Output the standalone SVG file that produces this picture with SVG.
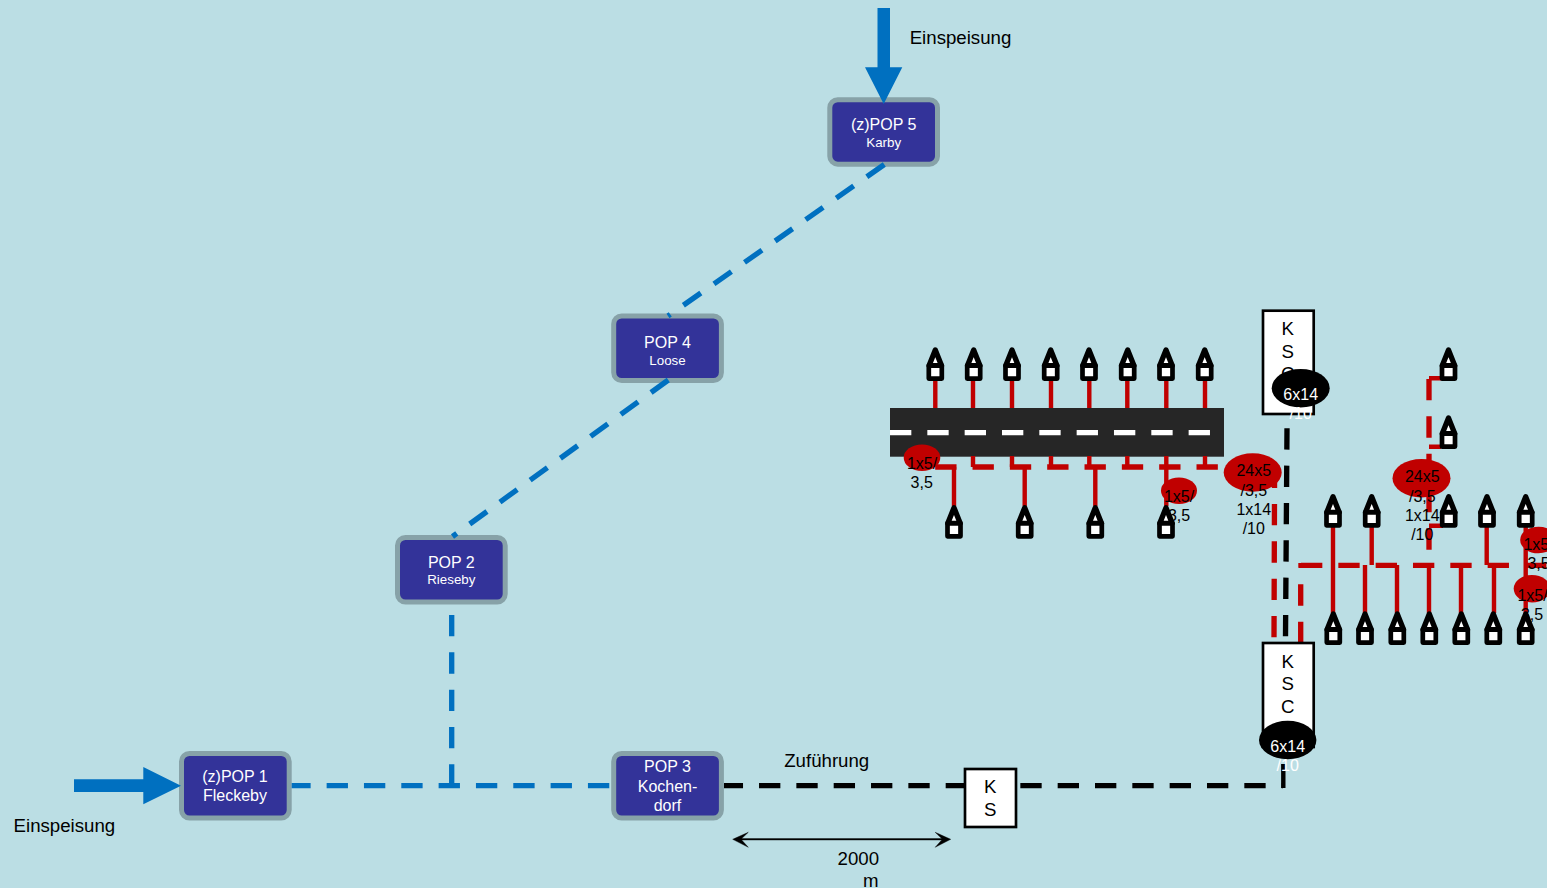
<svg xmlns="http://www.w3.org/2000/svg" width="1547" height="888" viewBox="0 0 1547 888">
<style>
text{font-family:"Liberation Sans",Arial,sans-serif;text-anchor:middle;fill:#000}
.t18{font-size:18.67px}.t16{font-size:16px}.t13{font-size:13.33px}
.w{fill:#fff}
.pop{fill:#333399;stroke:#87A2A8;stroke-width:5}
.blue{stroke:#0070C0;stroke-width:5.33;stroke-dasharray:21.33 16;fill:none}
.blk{stroke:#000;stroke-width:5.33;stroke-dasharray:21.33 16;fill:none}
.red{stroke:#C00000;stroke-width:5.33;stroke-dasharray:21.33 16;fill:none}
.rs{stroke:#C00000;stroke-width:4.4;fill:none}
.box{fill:#fff;stroke:#000;stroke-width:2.67}
.oval-r{fill:#C00000}
</style>
<defs>
<g id="mk" fill="#fff" stroke="#000" stroke-linejoin="round">
<path d="M0-31 L6.2-15.4 H-6.2Z" stroke-width="5.33"/>
<rect x="-6.5" y="-15.4" width="13" height="13" stroke-width="4.7"/>
</g>
</defs>
<rect width="1547" height="888" fill="#BBDEE4"/>

<g id="road">
<rect x="890" y="408" width="334" height="48.7" fill="#262626"/>
<path d="M890 432.7H1211" stroke="#fff" stroke-width="5.33" stroke-dasharray="21.33 16" fill="none"/>
</g>

<g id="pop1"><rect class="pop" x="181.5" y="753.5" width="107.7" height="64.5" rx="8"/>
<text class="t16 w" x="235" y="782.3">(z)POP 1</text><text class="t16 w" x="235" y="801">Fleckeby</text></g>
<g id="pop2"><rect class="pop" x="397.5" y="537.5" width="107.7" height="64.5" rx="8"/>
<text class="t16 w" x="451.3" y="568.3">POP 2</text><text class="t13 w" x="451.3" y="584.3">Rieseby</text></g>
<g id="pop3"><rect class="pop" x="613.7" y="753.5" width="107.7" height="64.5" rx="8"/>
<text class="t16 w" x="667.5" y="772">POP 3</text><text class="t16 w" x="667.5" y="792">Kochen-</text><text class="t16 w" x="667.5" y="811">dorf</text></g>
<g id="pop4"><rect class="pop" x="613.7" y="316" width="107.7" height="64.5" rx="8"/>
<text class="t16 w" x="667.5" y="348.3">POP 4</text><text class="t13 w" x="667.5" y="365.3">Loose</text></g>
<g id="pop5"><rect class="pop" x="829.8" y="99.7" width="107.7" height="64.5" rx="8"/>
<text class="t16 w" x="883.7" y="130">(z)POP 5</text><text class="t13 w" x="883.7" y="147.3">Karby</text></g>

<g id="connectors">
<path class="blue" d="M884.3 164.5L668 316"/>
<path class="blue" d="M668.3 380L452.5 536.5"/>
<path class="blue" d="M451.7 615V786"/>
<path class="blue" d="M291.7 785.7H611" style="stroke-dashoffset:2.4"/>
<path class="blk" d="M724 785.7H1283" style="stroke-dashoffset:2.3"/>
<path class="blk" d="M1287 428.3L1285.5 636.7"/>
<path d="M1283.3 764V788" stroke="#000" stroke-width="4.4" fill="none"/>
<path class="red" d="M935.2 467H1234"/>
<path class="red" d="M1274.6 466.7L1274 638"/>
<path class="red" d="M1300.7 584.3V642.7"/>
<path class="red" d="M1301 565.3H1547"/>
<path d="M1298.3 565.3H1303M1300.7 563V568" stroke="#C00000" stroke-width="4.4" fill="none"/>
<path class="red" d="M1429 379V565"/>
<path class="rs" d="M935.3 380V408M973 380V408M1012 380V408M1051 380V408M1089.3 380V408M1127.3 380V408M1166.3 380V408M1205 380V408"/>
<path class="rs" d="M973 456V467M1012 456V467M1051 456V467M1089.3 456V467M1127.3 456V467M1205 456V467M1166.3 456V506"/>
<path class="rs" d="M954 467V506M1024.7 467V506M1095.3 467V506"/>
<path class="rs" d="M1333 527V613M1371.7 527V565M1486.7 527V565M1525.7 527V613M1365 565V613M1397 565V613M1429 565V613M1461 565V613M1494 565V613"/>
<path class="rs" d="M1429 378.3H1443M1429 446.7H1441M1429 525.7H1443"/>
</g>

<g id="oval-a"><ellipse class="oval-r" cx="922" cy="457.7" rx="18.3" ry="13.3"/>
<text class="t16" x="922" y="469.3">1x5/</text><text class="t16" x="921.7" y="488.3">3,5</text></g>
<g id="oval-b"><ellipse class="oval-r" cx="1179" cy="490.7" rx="18" ry="13.3"/>
<text class="t16" x="1179" y="502.3">1x5/</text><text class="t16" x="1179" y="521">3,5</text></g>
<g id="oval-c"><ellipse class="oval-r" cx="1252.7" cy="472.5" rx="29" ry="19.2"/>
<text class="t16" x="1253.8" y="476">24x5</text><text class="t16" x="1253.8" y="495.7">/3,5</text><text class="t16" x="1253.8" y="515">1x14</text><text class="t16" x="1253.8" y="534.3">/10</text></g>
<g id="oval-d"><ellipse class="oval-r" cx="1421.5" cy="478.2" rx="29" ry="19.2"/>
<text class="t16" x="1422.3" y="482">24x5</text><text class="t16" x="1422.3" y="501.7">/3,5</text><text class="t16" x="1422.3" y="521">1x14</text><text class="t16" x="1422.3" y="540.3">/10</text></g>
<g id="oval-e"><ellipse class="oval-r" cx="1538.5" cy="540" rx="18.3" ry="13.3"/>
<text class="t16" x="1538.5" y="550">1x5/</text><text class="t16" x="1538.5" y="569.3">3,5</text></g>
<g id="oval-f"><ellipse class="oval-r" cx="1532" cy="588.7" rx="18.3" ry="13.7"/>
<text class="t16" x="1532.5" y="601">1x5/</text><text class="t16" x="1532" y="619.5">3,5</text></g>

<g id="markers-top">
<use href="#mk" x="935.3" y="381"/><use href="#mk" x="973.7" y="381"/><use href="#mk" x="1012" y="381"/><use href="#mk" x="1050.7" y="381"/><use href="#mk" x="1089" y="381"/><use href="#mk" x="1127.7" y="381"/><use href="#mk" x="1166" y="381"/><use href="#mk" x="1204.7" y="381"/>
</g>
<g id="markers-bottom">
<use href="#mk" x="954" y="538.7"/><use href="#mk" x="1024.7" y="538.7"/><use href="#mk" x="1095.3" y="538.7"/><use href="#mk" x="1166" y="538.7"/>
</g>
<g id="markers-right">
<use href="#mk" x="1448.5" y="381"/><use href="#mk" x="1448.5" y="449"/>
<use href="#mk" x="1333" y="527.7"/><use href="#mk" x="1371.7" y="527.7"/><use href="#mk" x="1448.7" y="527.7"/><use href="#mk" x="1487" y="527.7"/><use href="#mk" x="1525.7" y="527.7"/>
<use href="#mk" x="1333.3" y="645"/><use href="#mk" x="1365" y="645"/><use href="#mk" x="1397.3" y="645"/><use href="#mk" x="1429.3" y="645"/><use href="#mk" x="1461.3" y="645"/><use href="#mk" x="1493.3" y="645"/><use href="#mk" x="1525.7" y="645"/>
</g>

<g id="ksc-top"><rect class="box" x="1263" y="310.7" width="50.7" height="103.3"/>
<text class="t18" x="1287.7" y="335">K</text><text class="t18" x="1287.7" y="358">S</text><text class="t18" x="1287.7" y="380.4">C</text>
<ellipse cx="1300.7" cy="388.2" rx="29" ry="19.2" fill="#000"/>
<text class="t16 w" x="1300.7" y="400">6x14</text><text class="t16 w" x="1300.7" y="419">/10</text></g>
<g id="ksc-bottom"><rect class="box" x="1263" y="643" width="50.7" height="104"/>
<text class="t18" x="1287.7" y="668.3">K</text><text class="t18" x="1287.7" y="690.3">S</text><text class="t18" x="1287.7" y="713">C</text>
<ellipse cx="1287.7" cy="740" rx="28.7" ry="19.2" fill="#000"/>
<text class="t16 w" x="1287.7" y="752">6x14</text><text class="t16 w" x="1287.7" y="771">/10</text></g>
<g id="ks"><rect class="box" x="965" y="769" width="51" height="58"/>
<text class="t18" x="990.3" y="792.7">K</text><text class="t18" x="990.3" y="816">S</text></g>

<g id="feeds" fill="#0070C0">
<path d="M877.5 8H890V67.3H902.3L883.7 104L865 67.3H877.5Z"/>
<path d="M74 779.3H143.3V767L181 785.7L143.3 804.3V792H74Z"/>
</g>
<path id="measure" d="M732.7 839.3L748.3 832.3L741.7 838.6H941.7L935.2 832.3L950.7 839.3L935.2 847.3L941.7 840H741.7L748.3 847.3Z" fill="#000" stroke="#000" stroke-width="0.4"/>

<g id="labels">
<text class="t18" x="960.5" y="44.3">Einspeisung</text>
<text class="t18" x="64.4" y="832">Einspeisung</text>
<text class="t18" x="826.7" y="767.3">Zuführung</text>
<text class="t18" x="858.3" y="865">2000</text>
<text class="t18" x="870.7" y="886.7">m</text>
</g>
</svg>
